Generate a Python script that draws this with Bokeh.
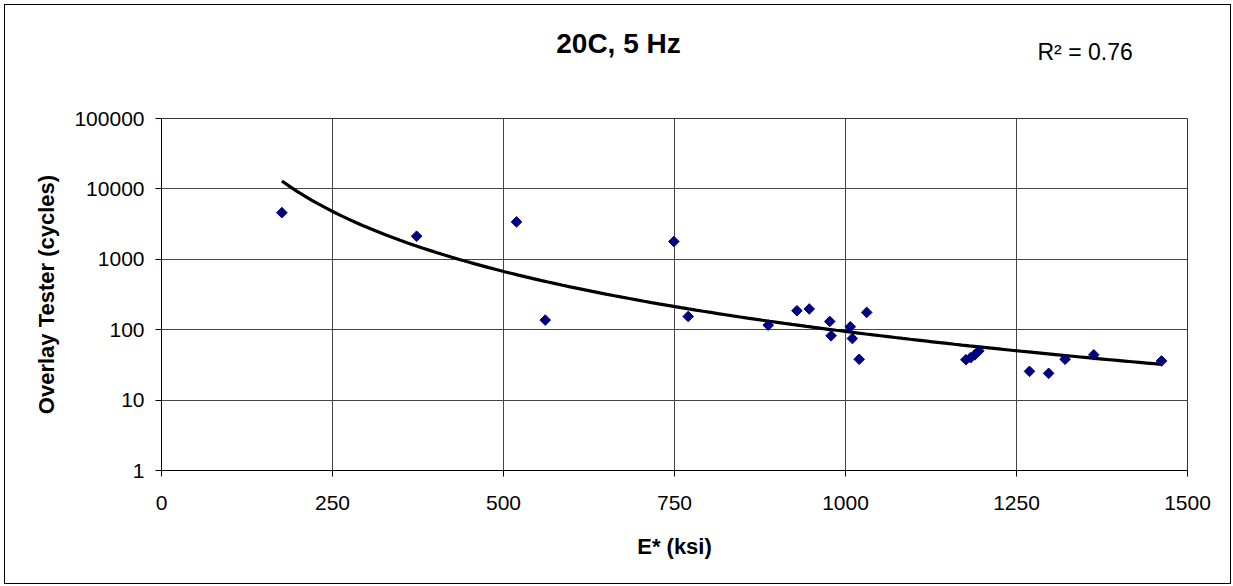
import numpy as np
from bokeh.plotting import figure
from bokeh.models import Range1d, FixedTicker, Label, ColumnDataSource
from bokeh.embed import file_html
from bokeh.resources import INLINE

# Data
e_star_ksi = [176, 373, 519, 561, 749, 770, 887, 929, 947, 977, 979, 1007, 1010,
              1020, 1031, 1176, 1183, 1189, 1195, 1269, 1297, 1321, 1363, 1462]
ot_cycles = [4600, 2130, 3400, 137, 1790, 154, 116, 186, 197, 131, 82, 110, 75,
             38, 176, 37.5, 40, 44, 50, 25.6, 24, 38, 44, 36]

x_ticks = [0, 250, 500, 750, 1000, 1250, 1500]
y_ticks = [1, 10, 100, 1000, 10000, 100000]
y_tick_labels = ["1", "10", "100", "1000", "10000", "100000"]

title_text = "20C, 5 Hz"
r2_text = "R\u00b2 = 0.76"
x_label = "E* (ksi)"
y_label = "Overlay Tester (cycles)"

FONT = "Liberation Sans"

# Power trendline fitted (least squares in log-log space) to the data
lx = np.log(np.array(e_star_ksi, dtype=float))
ly = np.log(np.array(ot_cycles, dtype=float))
b, ln_a = np.polyfit(lx, ly, 1)
fit_x = np.linspace(min(e_star_ksi), max(e_star_ksi), 120)
fit_y = np.exp(ln_a) * fit_x ** b

W, H = 1217, 570
FL, FT, FR, FB = 161, 118, 1187, 470  # frame edges in canvas pixels

p = figure(width=W, height=H, output_backend="svg", toolbar_location=None,
           y_axis_type="log",
           x_range=Range1d(0, 1500), y_range=Range1d(1, 100000),
           min_border_left=FL, min_border_right=W - FR,
           min_border_top=FT, min_border_bottom=H - FB)
p.background_fill_color = "white"
p.border_fill_color = None
p.outline_line_color = "#333333"
p.outline_line_width = 1
# outer chart border: 1px rectangle drawn with CSS shadows around the canvas
p.styles = {
    "background-color": "white",
    "box-shadow": ("inset 4px 4px 0 0 white, inset 5px 5px 0 0 black, "
                   "9px 9px 0 4px white, 9px 9px 0 5px black"),
}

# axes
p.xaxis.ticker = FixedTicker(ticks=x_ticks)
p.yaxis.ticker = FixedTicker(ticks=y_ticks)
p.yaxis.major_label_overrides = {t: l for t, l in zip(y_ticks, y_tick_labels)}
p.xaxis.major_label_overrides = {t: str(t) for t in x_ticks}
for ax in (p.xaxis, p.yaxis):
    ax.axis_line_color = "black"
    ax.axis_line_width = 1
    ax.major_tick_line_color = "black"
    ax.major_tick_in = 0
    ax.major_tick_out = 6
    ax.minor_tick_line_color = None
    ax.major_label_text_font = FONT
    ax.major_label_text_font_size = "21px"
    ax.major_label_text_color = "black"
    ax.axis_label_text_font = FONT
    ax.axis_label_text_font_size = "22px"
    ax.axis_label_text_font_style = "bold"
    ax.axis_label_text_color = "black"
p.xaxis.axis_label = x_label
p.yaxis.axis_label = y_label
p.yaxis.major_label_standoff = 11
p.xaxis.major_label_standoff = 19
p.yaxis.axis_label_standoff = 12
p.xaxis.axis_label_standoff = 21

# grid
p.xgrid.ticker = FixedTicker(ticks=x_ticks)
p.ygrid.ticker = FixedTicker(ticks=y_ticks)
p.xgrid.grid_line_color = "#444444"
p.ygrid.grid_line_color = "#444444"
p.xgrid.grid_line_width = 1
p.ygrid.grid_line_width = 1

# trendline
p.line(fit_x, fit_y, line_color="black", line_width=3.2)

# data points (diamonds)
src = ColumnDataSource(dict(x=e_star_ksi, y=ot_cycles))
p.scatter("x", "y", source=src, marker="square", angle=np.pi / 4, size=7.5,
          fill_color="#000080", line_color="#000080")

# title and R^2 as labels placed in the top panel (canvas pixel units)
p.add_layout(Label(x=618, y=43, x_units="canvas", y_units="canvas",
                   text=title_text, text_align="center", text_baseline="middle",
                   text_font=FONT, text_font_size="28px", text_font_style="bold",
                   text_color="black"), "above")
p.add_layout(Label(x=1037, y=51, x_units="canvas", y_units="canvas",
                   text=r2_text, text_align="left", text_baseline="middle",
                   text_font=FONT, text_font_size="23px", text_color="black"), "above")

open("out.html", "w").write(file_html(p, INLINE))
